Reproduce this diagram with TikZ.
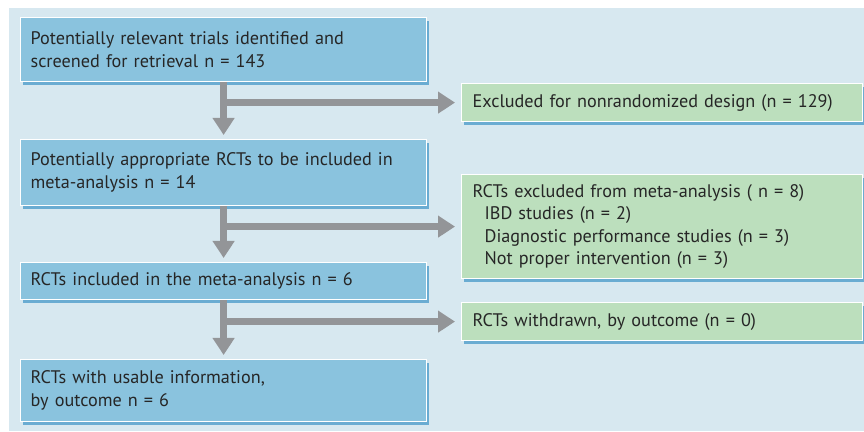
\documentclass[tikz,border=0pt]{standalone}
\usepackage{fontspec}
\setmainfont{PT Sans}
\usetikzlibrary{arrows.meta,shadows}
\definecolor{panelblue}{HTML}{D7E8F0}
\definecolor{boxblue}{HTML}{8AC3DE}
\definecolor{boxgreen}{HTML}{BCDFBD}
\definecolor{shadowblue}{HTML}{4F9DCB}
\definecolor{arrowgrey}{HTML}{939598}
\definecolor{inktext}{HTML}{262626}
\tikzset{
    % boxes of the flow chart
    stagebox/.style={draw=white, line width=1.2pt, fill=boxblue, text=inktext, align=left,
        text width=386pt, inner xsep=10pt, inner ysep=0pt, anchor=north west,
        font=\fontsize{18.2}{22.5}\selectfont,
        drop shadow={shadow xshift=2.5pt, shadow yshift=-3pt, fill=shadowblue, opacity=0.8}},
    exclbox/.style={stagebox, fill=boxgreen, text width=379pt, inner xsep=11pt},
    % thick grey arrows
    flow/.style={draw=arrowgrey, line width=7pt, -{Triangle[length=17pt,width=21pt]}}
}
\begin{document}
\begin{tikzpicture}[x=1pt, y=1pt]
    \useasboundingbox (0,0) rectangle (864,431);
    \fill[panelblue] (9,0) rectangle (864,423);

    % main stages
    \node[stagebox, minimum height=64pt] (found) at (20,414)
        {Potentially relevant trials identified and\\screened for retrieval n = 143};
    \node[stagebox, minimum height=66pt] (appropriate) at (20,292)
        {Potentially appropriate RCTs to be included in\\meta-analysis n = 14};
    \node[stagebox, minimum height=37pt] (included) at (20,169)
        {RCTs included in the meta-analysis n = 6};
    \node[stagebox, minimum height=62pt] (usable) at (20,72)
        {RCTs with usable information,\\by outcome n = 6};

    % exclusions
    \node[exclbox, minimum height=38pt] (nonrandom) at (461,348)
        {Excluded for nonrandomized design (n = 129)};
    \node[exclbox, minimum height=104pt] (excluded) at (461,257)
        {RCTs excluded from meta-analysis ( n = 8)\\
         \hspace*{12pt}IBD studies (n = 2)\\
         \hspace*{12pt}Diagnostic performance studies (n = 3)\\
         \hspace*{12pt}Not proper intervention (n = 3)};
    \node[exclbox, minimum height=38pt] (withdrawn) at (461,129)
        {RCTs withdrawn, by outcome (n = 0)};

    % arrows
    \draw[flow, shorten >=4pt] (found.south) -- (appropriate.north);
    \draw[flow, shorten >=6pt] (found.south |- nonrandom.west) -- (nonrandom.west);

    \draw[flow, shorten >=4pt] (appropriate.south) -- (included.north);
    \draw[flow, shorten >=6pt] (appropriate.south |- excluded.west) -- (excluded.west);

    \draw[flow, shorten >=4pt] (included.south) -- (usable.north);
    \draw[flow, shorten >=6pt] (included.south |- withdrawn.west) -- (withdrawn.west);
\end{tikzpicture}
\end{document}
